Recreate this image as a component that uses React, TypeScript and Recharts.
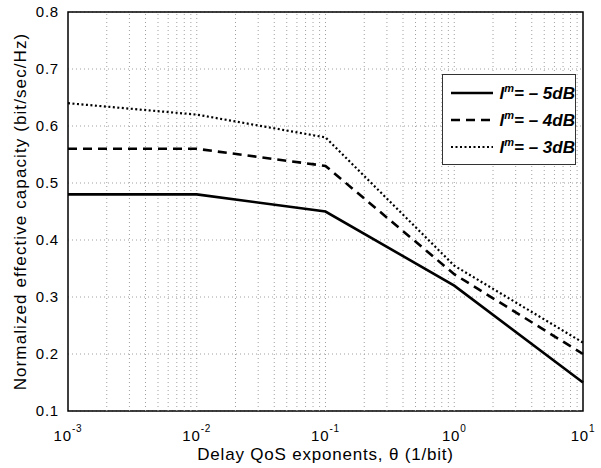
import { LineChart, Line, XAxis, YAxis, CartesianGrid, ReferenceLine, ReferenceArea } from "recharts";

const theta = [0.001, 0.01, 0.1, 1, 10];
const capM5 = [0.48, 0.48, 0.45, 0.32, 0.15];
const capM4 = [0.56, 0.56, 0.53, 0.34, 0.2];
const capM3 = [0.64, 0.62, 0.58, 0.355, 0.22];

const xTicks = [0.001, 0.01, 0.1, 1, 10];
const xExps = ["-3", "-2", "-1", "0", "1"];
const yTicks = [0.1, 0.2, 0.3, 0.4, 0.5, 0.6, 0.7, 0.8];
const legendLabels = ["5", "4", "3"];

const data = theta.map((t, i) => ({ t, a: capM5[i], b: capM4[i], c: capM3[i] }));

// minor log grid lines between decades
const minorX: number[] = [];
for (let d = 0.001; d < 5; d *= 10) {
  for (let k = 2; k <= 9; k++) minorX.push(+(d * k).toPrecision(3));
}

const FONT = "'Liberation Sans', Arial, sans-serif";
const gridStroke = "#a0a0a0";

const XTick = (props: any) => {
  const { x, y, payload, index } = props;
  return (
    <text x={x} y={y + 22} textAnchor="middle" fontFamily={FONT} fontSize={15} letterSpacing={0.8} fill="#000">
      <tspan>10</tspan>
      <tspan dy={-9} fontSize={10}>
        {xExps[index] ?? String(Math.log10(payload.value))}
      </tspan>
    </text>
  );
};

const styles = [
  { key: "a", dash: undefined, width: 2.6 },
  { key: "b", dash: "9 6", width: 2.6 },
  { key: "c", dash: "2 2.5", width: 2.2 },
];

const LegendBox = () => (
  <div
    style={{
      position: "absolute",
      left: 442,
      top: 74,
      border: "1.5px solid #333",
      background: "#fff",
      width: 132,
      padding: "4px 0",
      fontFamily: FONT,
    }}
  >
    {styles.map((s, i) => (
      <div key={s.key} style={{ display: "flex", alignItems: "center", height: 27 }}>
        <svg width={52} height={10} style={{ marginLeft: 6 }}>
          <line x1={2} y1={5} x2={44} y2={5} stroke="#000" strokeWidth={s.width} strokeDasharray={s.dash} />
        </svg>
        <span style={{ fontWeight: "bold", fontStyle: "italic", fontSize: 17, whiteSpace: "nowrap" }}>
          l<sup style={{ fontSize: 11 }}>m</sup>= – {legendLabels[i]}dB
        </span>
      </div>
    ))}
  </div>
);

export default function App() {
  return (
    <div style={{ position: "absolute", left: 0, top: 0, width: 601, height: 468, background: "#fff" }}>
      <LineChart width={601} height={468} data={data} margin={{ top: 12, right: 18, left: 0, bottom: 0 }}>
        <CartesianGrid vertical={false} stroke={gridStroke} strokeDasharray="1 3" />
        {minorX.concat(xTicks.slice(1, 4)).map((v) => (
          <ReferenceLine key={v} x={v} stroke={gridStroke} strokeDasharray="1 3" />
        ))}
        <XAxis
          dataKey="t"
          type="number"
          scale="log"
          domain={[0.001, 10]}
          ticks={xTicks}
          tick={<XTick />}
          tickLine={false}
          axisLine={false}
          height={57}
          label={{
            value: "Delay QoS exponents, θ (1/bit)",
            position: "insideBottom",
            offset: 8,
            fontSize: 17,
            letterSpacing: 0.8,
            fontFamily: FONT,
            fill: "#000",
          }}
        />
        <YAxis
          type="number"
          domain={[0.1, 0.8]}
          ticks={yTicks}
          tickFormatter={(v: number) => v.toFixed(1)}
          tick={{ fontSize: 15, fontFamily: FONT, fill: "#000", letterSpacing: 0.8 }}
          tickLine={false}
          axisLine={false}
          tickMargin={3}
          width={68}
          label={{
            value: "Normalized effective capacity (bit/sec/Hz)",
            angle: -90,
            position: "insideLeft",
            offset: 20,
            style: { textAnchor: "middle" },
            fontSize: 17,
            letterSpacing: 1.1,
            fontFamily: FONT,
            fill: "#000",
          }}
        />
        <ReferenceArea x1={0.001} x2={10} y1={0.1} y2={0.8} fill="none" stroke="#000" strokeWidth={1.5} />
        {styles.map((s) => (
          <Line
            key={s.key}
            dataKey={s.key}
            stroke="#000"
            strokeWidth={s.width}
            strokeDasharray={s.dash}
            dot={false}
            isAnimationActive={false}
          />
        ))}
      </LineChart>
      <LegendBox />
    </div>
  );
}
